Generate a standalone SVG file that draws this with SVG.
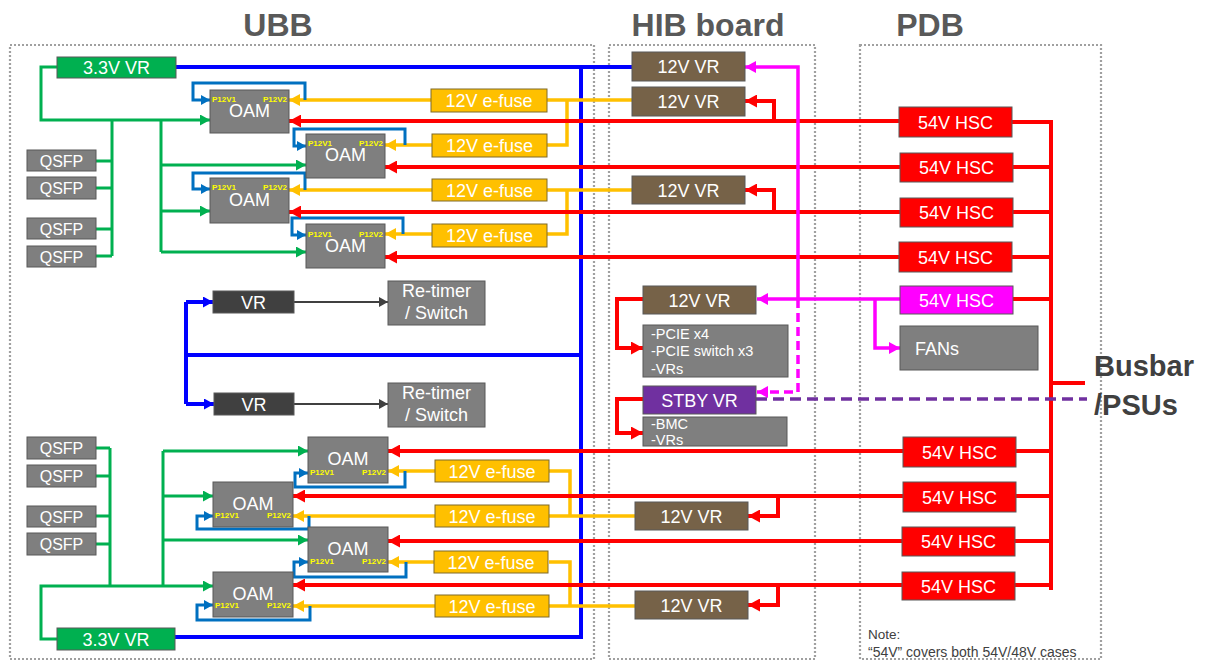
<svg xmlns="http://www.w3.org/2000/svg" width="1210" height="662" viewBox="0 0 1210 662">
<style>
text{font-family:"Liberation Sans",Arial,sans-serif}
.t{font-size:18px;fill:#fff;text-anchor:middle}
.ts{font-size:18px;fill:#fff;text-anchor:start}
.q{font-size:16px;fill:#fff;text-anchor:middle}
.s{font-size:14.5px;fill:#fff}
.p{font-size:8px;font-weight:bold;fill:#FFFF00;text-anchor:start}
.pe{font-size:8px;font-weight:bold;fill:#FFFF00;text-anchor:end}
.title{font-size:32px;font-weight:bold;fill:#595959;text-anchor:middle}
.frame{fill:none;stroke:#A0A0A0;stroke-width:2.2;stroke-dasharray:2 2}
.gray{fill:#7F7F7F;stroke:#595959;stroke-width:1}
.brown{fill:#766248;stroke:#595959;stroke-width:1}
.fuse{fill:#FFC000;stroke:#7F6A2A;stroke-width:1}
.hsc{fill:#FF0000;stroke:#595959;stroke-width:1}
.green{fill:#00B050;stroke:#595959;stroke-width:1}
.dark{fill:#404040;stroke:#595959;stroke-width:1}
.c{fill:none;stroke-linejoin:miter}
.cg{stroke:#00B050;stroke-width:3}
.cb{stroke:#0000FF;stroke-width:4}
.cl{stroke:#0070C0;stroke-width:3}
.cr{stroke:#FF0000;stroke-width:4}
.cy{stroke:#FFC000;stroke-width:3.5}
.cm{stroke:#FF00FF;stroke-width:3.5}
.ck{stroke:#404040;stroke-width:2}
</style>
<defs>
<marker id="ar" markerUnits="userSpaceOnUse" markerWidth="13" markerHeight="13" refX="12" refY="6.5" orient="auto"><path d="M0,0 L12,6.5 L0,13 z" fill="#FF0000"/></marker>
<marker id="ay" markerUnits="userSpaceOnUse" markerWidth="12" markerHeight="12" refX="11" refY="6" orient="auto"><path d="M0,0 L11,6 L0,12 z" fill="#FFC000"/></marker>
<marker id="al" markerUnits="userSpaceOnUse" markerWidth="10" markerHeight="10" refX="9" refY="5" orient="auto"><path d="M0,0 L9,5 L0,10 z" fill="#0070C0"/></marker>
<marker id="ag" markerUnits="userSpaceOnUse" markerWidth="11" markerHeight="11" refX="10" refY="5.5" orient="auto"><path d="M0,0 L10,5.5 L0,11 z" fill="#00B050"/></marker>
<marker id="ab" markerUnits="userSpaceOnUse" markerWidth="11" markerHeight="11" refX="10" refY="5.5" orient="auto"><path d="M0,0 L10,5.5 L0,11 z" fill="#0000FF"/></marker>
<marker id="am" markerUnits="userSpaceOnUse" markerWidth="12" markerHeight="12" refX="11" refY="6" orient="auto"><path d="M0,0 L11,6 L0,12 z" fill="#FF00FF"/></marker>
<marker id="ak" markerUnits="userSpaceOnUse" markerWidth="10" markerHeight="10" refX="9" refY="5" orient="auto"><path d="M0,0 L9,5 L0,10 z" fill="#404040"/></marker>
</defs>
<rect width="1210" height="662" fill="#fff"/>

<g id="frames">
<rect class="frame" x="10" y="45" width="584" height="614"/>
<rect class="frame" x="609" y="45" width="206" height="614"/>
<rect class="frame" x="860" y="45" width="241" height="614"/>
<text class="title" x="278" y="36">UBB</text>
<text class="title" x="708" y="36">HIB board</text>
<text class="title" x="930" y="36">PDB</text>
</g>

<g id="connectors" class="c">
<!-- green -->
<path class="cg" d="M57,67 H41 V120 H210" marker-end="url(#ag)"/>
<path class="cg" d="M112,120 V256 M96,161 H112 M96,188 H112 M96,229 H112 M96,256 H112"/>
<path class="cg" d="M161,120 V252"/>
<path class="cg" d="M161,165 H306" marker-end="url(#ag)"/>
<path class="cg" d="M161,211 H210" marker-end="url(#ag)"/>
<path class="cg" d="M161,252 H306" marker-end="url(#ag)"/>
<path class="cg" d="M57,639 H41 V586 H213" marker-end="url(#ag)"/>
<path class="cg" d="M110,586 V448 M96,448 H110 M96,476 H110 M96,516 H110 M96,544 H110"/>
<path class="cg" d="M163,586 V451"/>
<path class="cg" d="M163,451 H308" marker-end="url(#ag)"/>
<path class="cg" d="M163,496 H213" marker-end="url(#ag)"/>
<path class="cg" d="M163,540 H308" marker-end="url(#ag)"/>
<!-- blue bus -->
<path class="cb" d="M176,67 H632 M581,67 V637 H175"/>
<path class="cb" d="M581,355 H186 M186,302 V404"/>
<path class="cb" d="M186,302 H213" marker-end="url(#ab)"/>
<path class="cb" d="M186,404 H214" marker-end="url(#ab)"/>
<path class="ck" d="M294,302 H388" marker-end="url(#ak)"/>
<path class="ck" d="M294,404 H388" marker-end="url(#ak)"/>
<!-- yellow -->
<path class="cy" d="M547,100 H632 M547,145 H567 V100 M547,190 H632 M547,234 H567 V190"/>
<path class="cy" d="M431,100 H289" marker-end="url(#ay)"/>
<path class="cy" d="M432,145 H385" marker-end="url(#ay)"/>
<path class="cy" d="M432,190 H289" marker-end="url(#ay)"/>
<path class="cy" d="M432,234 H385" marker-end="url(#ay)"/>
<path class="cy" d="M549,471 H570 V516 M549,516 H635 M549,562 H570 V606 M549,606 H635"/>
<path class="cy" d="M435,471 H388" marker-end="url(#ay)"/>
<path class="cy" d="M435,516 H293" marker-end="url(#ay)"/>
<path class="cy" d="M434,562 H388" marker-end="url(#ay)"/>
<path class="cy" d="M435,606 H293" marker-end="url(#ay)"/>
<!-- P12V loops -->
<path class="cl" d="M305,100 V83 H193 V100 H210" marker-end="url(#al)"/>
<path class="cl" d="M405,145 V129 H294 V146 H306" marker-end="url(#al)"/>
<path class="cl" d="M305,190 V173 H193 V189 H210" marker-end="url(#al)"/>
<path class="cl" d="M403,234 V218 H292 V235 H306" marker-end="url(#al)"/>
<path class="cl" d="M405,471 V487 H295 V473 H308" marker-end="url(#al)"/>
<path class="cl" d="M309,516 V529 H197 V516 H213" marker-end="url(#al)"/>
<path class="cl" d="M406,562 V577 H294 V562 H308" marker-end="url(#al)"/>
<path class="cl" d="M310,606 V620 H197 V605 H213" marker-end="url(#al)"/>
<!-- red -->
<path class="cr" d="M899,121 H289" marker-end="url(#ar)"/>
<path class="cr" d="M900,167 H385" marker-end="url(#ar)"/>
<path class="cr" d="M900,212 H289" marker-end="url(#ar)"/>
<path class="cr" d="M899,257 H385" marker-end="url(#ar)"/>
<path class="cr" d="M774,121 V101 H745" marker-end="url(#ar)"/>
<path class="cr" d="M774,212 V190 H745" marker-end="url(#ar)"/>
<path class="cr" d="M903,451 H388" marker-end="url(#ar)"/>
<path class="cr" d="M903,496 H293" marker-end="url(#ar)"/>
<path class="cr" d="M902,541 H388" marker-end="url(#ar)"/>
<path class="cr" d="M902,585 H293" marker-end="url(#ar)"/>
<path class="cr" d="M778,496 V516 H748" marker-end="url(#ar)"/>
<path class="cr" d="M778,585 V605 H748" marker-end="url(#ar)"/>
<path class="cr" d="M643,299 H617 V348 H643" marker-end="url(#ar)"/>
<path class="cr" d="M643,399 H617 V433 H643" marker-end="url(#ar)"/>
<path class="cr" d="M1051,120 V590 M1012,122 H1051 M1013,167 H1051 M1013,212 H1051 M1012,257 H1051 M1013,299 H1051 M1016,451 H1051 M1016,496 H1051 M1015,541 H1051 M1015,585 H1051 M1051,383 H1085"/>
<!-- magenta -->
<path class="cm" d="M900,299 H757" marker-end="url(#am)"/>
<path class="cm" d="M798,299 V67 H745" marker-end="url(#am)"/>
<path class="cm" d="M798,299 V392 H757" stroke-dasharray="9 5" marker-end="url(#am)"/>
<path class="cm" d="M875,299 V348 H900" marker-end="url(#am)"/>
<!-- purple dashed -->
<path class="c" d="M756,399 H1087" stroke="#7030A0" stroke-width="3.5" stroke-dasharray="11 6"/>
</g>

<g id="vr33-top"><rect class="green" x="57" y="57" width="119" height="21"/><text class="t" x="116.5" y="74">3.3V VR</text></g>
<g id="vr33-bot"><rect class="green" x="57" y="628" width="118" height="22"/><text class="t" x="116" y="645.5">3.3V VR</text></g>

<g id="qsfp1"><rect class="gray" x="27" y="150" width="69" height="21"/><text class="q" x="61.5" y="166.5">QSFP</text></g>
<g id="qsfp2"><rect class="gray" x="27" y="177" width="69" height="22"/><text class="q" x="61.5" y="194">QSFP</text></g>
<g id="qsfp3"><rect class="gray" x="27" y="218" width="69" height="21"/><text class="q" x="61.5" y="234.5">QSFP</text></g>
<g id="qsfp4"><rect class="gray" x="27" y="246" width="69" height="21"/><text class="q" x="61.5" y="262.5">QSFP</text></g>
<g id="qsfp5"><rect class="gray" x="27" y="437" width="69" height="22"/><text class="q" x="61.5" y="454">QSFP</text></g>
<g id="qsfp6"><rect class="gray" x="27" y="465" width="69" height="22"/><text class="q" x="61.5" y="482">QSFP</text></g>
<g id="qsfp7"><rect class="gray" x="27" y="506" width="69" height="21"/><text class="q" x="61.5" y="522.5">QSFP</text></g>
<g id="qsfp8"><rect class="gray" x="27" y="533" width="69" height="22"/><text class="q" x="61.5" y="550">QSFP</text></g>

<g id="oam1"><rect class="gray" x="210" y="90" width="79" height="43"/><text class="t" x="249.5" y="117">OAM</text><text class="p" x="212" y="102">P12V1</text><text class="pe" x="287" y="102">P12V2</text></g>
<g id="oam2"><rect class="gray" x="306" y="134" width="79" height="44"/><text class="t" x="345.5" y="161">OAM</text><text class="p" x="308" y="146">P12V1</text><text class="pe" x="383" y="146">P12V2</text></g>
<g id="oam3"><rect class="gray" x="210" y="178" width="79" height="45"/><text class="t" x="249.5" y="206">OAM</text><text class="p" x="212" y="190">P12V1</text><text class="pe" x="287" y="190">P12V2</text></g>
<g id="oam4"><rect class="gray" x="306" y="224" width="79" height="44"/><text class="t" x="345.5" y="252">OAM</text><text class="p" x="308" y="237">P12V1</text><text class="pe" x="383" y="237">P12V2</text></g>
<g id="oam5"><rect class="gray" x="308" y="437" width="80" height="46"/><text class="t" x="348" y="465">OAM</text><text class="p" x="310" y="475">P12V1</text><text class="pe" x="386" y="475">P12V2</text></g>
<g id="oam6"><rect class="gray" x="213" y="482" width="80" height="45"/><text class="t" x="253" y="510">OAM</text><text class="p" x="215" y="518">P12V1</text><text class="pe" x="291" y="518">P12V2</text></g>
<g id="oam7"><rect class="gray" x="308" y="527" width="80" height="45"/><text class="t" x="348" y="555">OAM</text><text class="p" x="310" y="564">P12V1</text><text class="pe" x="386" y="564">P12V2</text></g>
<g id="oam8"><rect class="gray" x="213" y="572" width="80" height="45"/><text class="t" x="253" y="600">OAM</text><text class="p" x="215" y="608">P12V1</text><text class="pe" x="291" y="608">P12V2</text></g>

<g id="efuse1"><rect class="fuse" x="431" y="89" width="116" height="23"/><text class="t" x="489" y="107">12V e-fuse</text></g>
<g id="efuse2"><rect class="fuse" x="432" y="134" width="115" height="23"/><text class="t" x="489.5" y="152">12V e-fuse</text></g>
<g id="efuse3"><rect class="fuse" x="432" y="179" width="115" height="22"/><text class="t" x="489.5" y="196.5">12V e-fuse</text></g>
<g id="efuse4"><rect class="fuse" x="432" y="224" width="115" height="23"/><text class="t" x="489.5" y="242">12V e-fuse</text></g>
<g id="efuse5"><rect class="fuse" x="435" y="460" width="114" height="22"/><text class="t" x="492" y="477.5">12V e-fuse</text></g>
<g id="efuse6"><rect class="fuse" x="435" y="505" width="114" height="22"/><text class="t" x="492" y="522.5">12V e-fuse</text></g>
<g id="efuse7"><rect class="fuse" x="434" y="551" width="114" height="22"/><text class="t" x="491" y="568.5">12V e-fuse</text></g>
<g id="efuse8"><rect class="fuse" x="435" y="595" width="114" height="22"/><text class="t" x="492" y="612.5">12V e-fuse</text></g>

<g id="vr-a"><rect class="dark" x="213" y="291" width="81" height="22"/><text class="t" x="253.5" y="308.5">VR</text></g>
<g id="vr-b"><rect class="dark" x="214" y="393" width="80" height="22"/><text class="t" x="254" y="410.5">VR</text></g>
<g id="retimer-a"><rect class="gray" x="388" y="281" width="97" height="44"/><text class="t" x="436.5" y="297">Re-timer</text><text class="t" x="436.5" y="319">/ Switch</text></g>
<g id="retimer-b"><rect class="gray" x="388" y="383" width="97" height="44"/><text class="t" x="436.5" y="399">Re-timer</text><text class="t" x="436.5" y="421">/ Switch</text></g>

<g id="hib-vr1"><rect class="brown" x="632" y="52" width="113" height="29"/><text class="t" x="688.5" y="73">12V VR</text></g>
<g id="hib-vr2"><rect class="brown" x="632" y="87" width="113" height="29"/><text class="t" x="688.5" y="108">12V VR</text></g>
<g id="hib-vr3"><rect class="brown" x="632" y="176" width="113" height="28"/><text class="t" x="688.5" y="196.5">12V VR</text></g>
<g id="hib-vr4"><rect class="brown" x="643" y="286" width="113" height="28"/><text class="t" x="699.5" y="306.5">12V VR</text></g>
<g id="pcie"><rect class="gray" x="643" y="325" width="145" height="52"/><text class="s" x="651" y="339">-PCIE x4</text><text class="s" x="651" y="356">-PCIE switch x3</text><text class="s" x="651" y="374">-VRs</text></g>
<g id="stby-vr"><rect x="643" y="386" width="113" height="28" fill="#7030A0" stroke="#595959" stroke-width="1"/><text class="t" x="699.5" y="406.5">STBY VR</text></g>
<g id="bmc"><rect class="gray" x="643" y="417" width="144" height="29"/><text class="s" x="651" y="429">-BMC</text><text class="s" x="651" y="445">-VRs</text></g>
<g id="hib-vr5"><rect class="brown" x="635" y="502" width="113" height="28"/><text class="t" x="691.5" y="522.5">12V VR</text></g>
<g id="hib-vr6"><rect class="brown" x="635" y="591" width="113" height="28"/><text class="t" x="691.5" y="611.5">12V VR</text></g>

<g id="hsc1"><rect class="hsc" x="899" y="107" width="113" height="30"/><text class="t" x="955.5" y="128.5">54V HSC</text></g>
<g id="hsc2"><rect class="hsc" x="900" y="153" width="113" height="29"/><text class="t" x="956.5" y="174">54V HSC</text></g>
<g id="hsc3"><rect class="hsc" x="900" y="198" width="113" height="29"/><text class="t" x="956.5" y="219">54V HSC</text></g>
<g id="hsc4"><rect class="hsc" x="899" y="242" width="113" height="30"/><text class="t" x="955.5" y="263.5">54V HSC</text></g>
<g id="hsc5"><rect x="900" y="286" width="113" height="28" fill="#FF00FF" stroke="#595959" stroke-width="1"/><text class="t" x="956.5" y="306.5">54V HSC</text></g>
<g id="fans"><rect class="gray" x="900" y="326" width="138" height="44"/><text class="ts" x="915" y="354.5">FANs</text></g>
<g id="hsc6"><rect class="hsc" x="903" y="437" width="113" height="30"/><text class="t" x="959.5" y="458.5">54V HSC</text></g>
<g id="hsc7"><rect class="hsc" x="903" y="482" width="113" height="30"/><text class="t" x="959.5" y="503.5">54V HSC</text></g>
<g id="hsc8"><rect class="hsc" x="902" y="527" width="113" height="29"/><text class="t" x="958.5" y="548">54V HSC</text></g>
<g id="hsc9"><rect class="hsc" x="902" y="572" width="113" height="28"/><text class="t" x="958.5" y="592.5">54V HSC</text></g>

<g id="busbar"><text x="1094" y="376" font-size="29" font-weight="bold" fill="#404040">Busbar</text><text x="1094" y="415" font-size="29" font-weight="bold" fill="#404040">/PSUs</text></g>
<g id="note"><text x="868" y="639" font-size="13.5" fill="#404040">Note:</text><text x="868" y="657" font-size="14" fill="#404040">“54V” covers both 54V/48V cases</text></g>
</svg>
